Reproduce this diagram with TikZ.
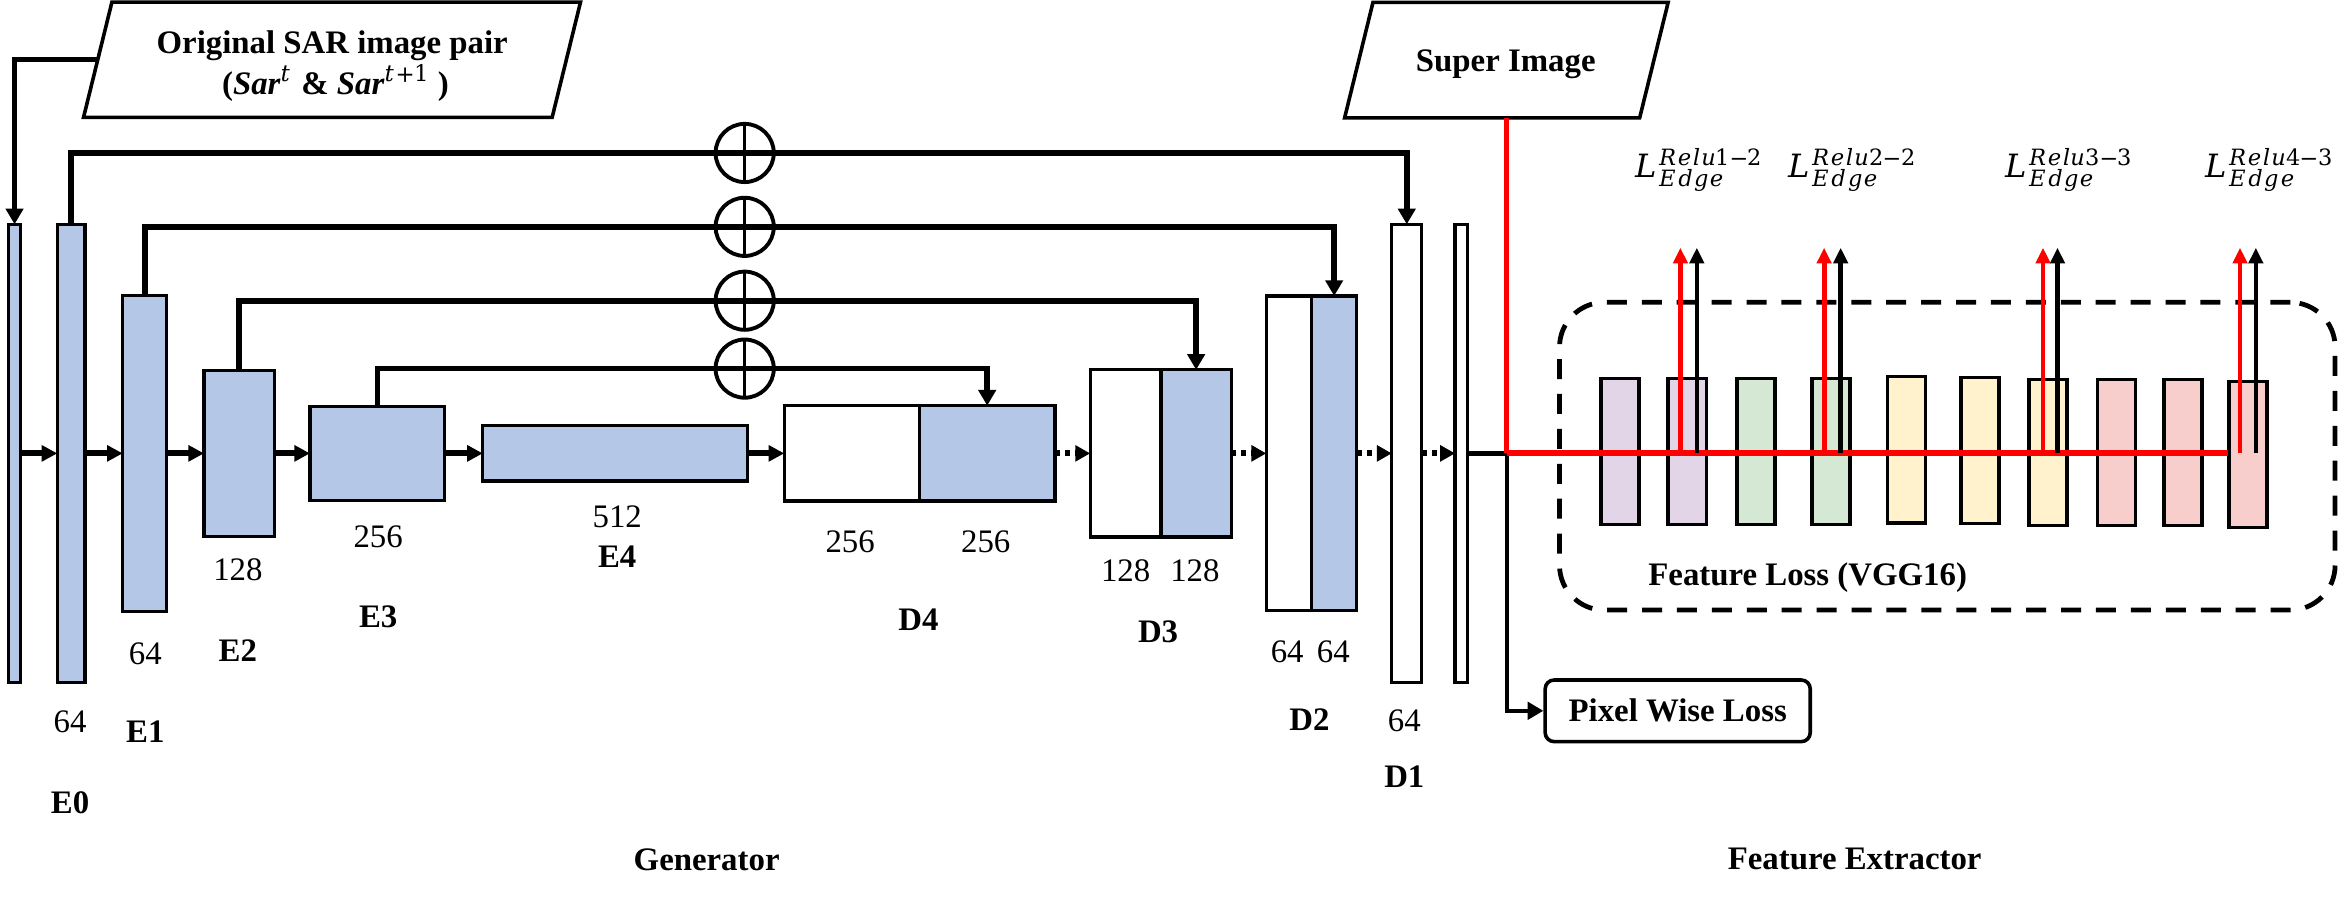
\documentclass[tikz,border=0pt]{standalone}
\usepackage{fontspec}
\usepackage{unicode-math}
\setmainfont{Liberation Serif}
\setmathfont{DejaVu Math TeX Gyre}
\usetikzlibrary{arrows.meta}
\definecolor{blueF}{HTML}{B4C7E7}
\definecolor{purpF}{HTML}{E1D5E7}
\definecolor{greenF}{HTML}{D5E8D4}
\definecolor{yelF}{HTML}{FFF2CC}
\definecolor{pinkF}{HTML}{F8CECC}
\definecolor{redL}{HTML}{FF0000}
\begin{document}
\begin{tikzpicture}[x=1pt,y=-1pt,
 fs/.style={font=\fontsize{22}{26}\selectfont, inner sep=0pt},
 bfs/.style={font=\fontsize{22}{26}\selectfont\bfseries, inner sep=0pt},
 blk/.style={draw, line width=2.2pt, inner sep=0pt, outer sep=0pt},
 bblk/.style={blk, fill=blueF},
 wblk/.style={blk, fill=white},
 vgg/.style={draw, line width=2.2pt, inner sep=0pt, outer sep=0pt, minimum width=25.5pt, minimum height=98pt},
 encarr/.style={line width=4pt, -{Triangle[length=10.5pt,width=10.5pt]}},
 decarr/.style={line width=4pt, dash pattern=on 3.5pt off 3.2pt, -{Triangle[length=10pt,width=10.5pt]}},
 skiparr/.style={line width=3.8pt, -{Triangle[length=10.5pt,width=11.5pt]}},
 opl/.style={circle, draw, line width=2.6pt, minimum size=39pt, inner sep=0pt, outer sep=0pt},
 upr/.style={redL, line width=3.2pt, -{Triangle[length=10.5pt,width=9.5pt]}},
 upb/.style={black, line width=3pt, -{Triangle[length=10.5pt,width=9.5pt]}},
 lossl/.style={font=\fontsize{21.5}{26}\selectfont, inner sep=0pt, anchor=base west},
 para/.style={line width=2.4pt, line join=miter},
]
\useasboundingbox (0,0) rectangle (1568,602.4);

% ---------- input parallelogram ----------
\draw[para] (75,1.4) -- (389,1.4) -- (370,78.6) -- (56,78.6) -- cycle;
\node[bfs, anchor=base] (sarT1) at (222.6,35.7) {Original SAR image pair};
\node[bfs, anchor=base] (sarT2) at (224.8,63) {(\textit{Sar}$^{t}$ \& \textit{Sar}$^{t+1}$ )};
\coordinate (sarL) at (65.4,40);

% ---------- super image parallelogram ----------
\draw[para] (920,1.6) -- (1117.8,1.6) -- (1098.7,79) -- (901,79) -- cycle;
\node[bfs, anchor=base] (siT) at (1009,48) {Super Image};
\coordinate (siB) at (1009.6,79);

% ---------- generator blocks ----------
\node[bblk, minimum width=8.3pt,  minimum height=307pt]  (in) at (9.75,303.8) {};
\node[bblk, minimum width=18.6pt, minimum height=307pt]  (E0) at (47.7,303.8) {};
\node[bblk, minimum width=29.5pt, minimum height=211.5pt] (E1) at (96.95,303.8) {};
\node[bblk, minimum width=47.2pt, minimum height=111.2pt] (E2) at (160.3,303.8) {};
\node[bblk, minimum width=90.3pt, minimum height=63pt]   (E3) at (252.85,303.8) {};
\node[bblk, minimum width=177.3pt, minimum height=37pt]  (E4) at (412.15,303.8) {};
\node[wblk, minimum width=90.5pt, minimum height=64pt]   (D4a) at (570.75,303.8) {};
\node[bblk, minimum width=91pt,   minimum height=64pt]   (D4b) at (661.5,303.8) {};
\node[wblk, minimum width=47.5pt, minimum height=112pt]  (D3a) at (754.25,303.8) {};
\node[bblk, minimum width=47pt,   minimum height=112pt]  (D3b) at (801.5,303.8) {};
\node[wblk, minimum width=30.5pt, minimum height=211pt]  (D2a) at (863.75,303.8) {};
\node[bblk, minimum width=30pt,   minimum height=211pt]  (D2b) at (894,303.8) {};
\node[wblk, minimum width=20.1pt, minimum height=307pt]  (D1) at (942.65,303.8) {};
\node[wblk, minimum width=8.5pt,  minimum height=307pt]  (Dout) at (979.25,303.8) {};

% ---------- forward arrows ----------
\draw[encarr] (in.east) -- (E0.west);
\draw[encarr] (E0.east) -- (E1.west);
\draw[encarr] (E1.east) -- (E2.west);
\draw[encarr] (E2.east) -- (E3.west);
\draw[encarr] (E3.east) -- (E4.west);
\draw[encarr] (E4.east) -- (D4a.west);
\draw[decarr] (D4b.east) -- (D3a.west);
\draw[decarr] (D3b.east) -- (D2a.west);
\draw[decarr] (D2b.east) -- (D1.west);
\draw[decarr] (D1.east) -- (Dout.west);

% ---------- input connector ----------
\draw[skiparr, line width=3.4pt] (sarL) -| (in.north);

% ---------- skip connections ----------
\node[opl] (op1) at (499,102.5) {};
\node[opl] (op2) at (499,152) {};
\node[opl] (op3) at (499,201.5) {};
\node[opl] (op4) at (499,247) {};
\draw[skiparr] (E0.north) |- (op1.center) -| (D1.north);
\draw[skiparr] (E1.north) |- (op2.center) -| (D2b.north);
\draw[skiparr] (E2.north) |- (op3.center) -| (D3b.north);
\draw[skiparr] (E3.north) |- (op4.center) -| (D4b.north);
\foreach \o in {op1,op2,op3,op4}{
  \draw[line width=1.8pt] (\o.north) -- (\o.south);
}

% ---------- generator labels ----------
\node[fs]  (n0)  at (47,483.6) {64};
\node[bfs] (l0)  at (47,537.9) {E0};
\node[fs]  (n1)  at (97.4,437.8) {64};
\node[bfs] (l1)  at (97.4,490) {E1};
\node[fs]  (n2)  at (159.4,382) {128};
\node[bfs] (l2)  at (159.4,436) {E2};
\node[fs]  (n3)  at (253.4,359.6) {256};
\node[bfs] (l3)  at (253.4,413.2) {E3};
\node[fs]  (n4)  at (413.6,346) {512};
\node[bfs] (l4)  at (413.6,373) {E4};
\node[fs]  (n5a) at (569.7,363) {256};
\node[fs]  (n5b) at (660.5,363) {256};
\node[bfs] (l5)  at (615.4,415.5) {D4};
\node[fs]  (n6a) at (754.3,382.4) {128};
\node[fs]  (n6b) at (800.7,382.4) {128};
\node[bfs] (l6)  at (776,423.3) {D3};
\node[fs]  (n7a) at (862.5,436.7) {64};
\node[fs]  (n7b) at (893.4,436.7) {64};
\node[bfs] (l7)  at (877.5,482.5) {D2};
\node[fs]  (n8)  at (941,483) {64};
\node[bfs] (l8)  at (941,520.5) {D1};
\node[bfs] (gen) at (473.5,576.3) {Generator};
\node[bfs] (fex) at (1242.8,575.8) {Feature Extractor};

% ---------- feature extractor ----------
\node[draw, line width=3.2pt, dash pattern=on 13.4pt off 10pt, rounded corners=30pt,
      minimum width=519.7pt, minimum height=206.2pt, inner sep=0pt] (vggbox) at (1304.85,305.7) {};
\node[bfs, anchor=base] (vggT) at (1211.3,392) {Feature Loss (VGG16)};

\node[vgg, fill=purpF]  (v1)  at (1085.5,302.5) {};
\node[vgg, fill=purpF]  (v2)  at (1130.5,302.5) {};
\node[vgg, fill=greenF] (v3)  at (1176.6,302.5) {};
\node[vgg, fill=greenF] (v4)  at (1226.9,302.5) {};
\node[vgg, fill=yelF]   (v5)  at (1277.7,301.5) {};
\node[vgg, fill=yelF]   (v6)  at (1326.8,301.8) {};
\node[vgg, fill=yelF]   (v7)  at (1372.3,303.3) {};
\node[vgg, fill=pinkF]  (v8)  at (1418.2,303.3) {};
\node[vgg, fill=pinkF]  (v9)  at (1462.8,303.3) {};
\node[vgg, fill=pinkF]  (v10) at (1506.4,304.5) {};

\coordinate (J) at (1009.6,303.8);
\coordinate (rEnd) at (1493.2,303.8);
\node[draw, line width=2.4pt, rounded corners=6pt, minimum width=177.6pt, minimum height=41.3pt,
      bfs] (pwl) at (1124.2,476.3) {Pixel Wise Loss};

\draw[line width=3.6pt] (Dout.east) -- (J);
\draw[line width=2.8pt, -{Triangle[length=10.5pt,width=11.5pt]}] (J) |- (pwl.west);
\draw[redL, line width=3pt] (siB) -- (J);
\draw[redL, line width=4pt] (J) -- (rEnd);

\foreach \r/\b/\i in {1126/1137/1, 1222.3/1233.4/2, 1369/1378.7/3, 1501/1511.6/4}{
  \coordinate (rs\i) at (\r,303.8);
  \coordinate (rt\i) at (\r,166);
  \coordinate (bs\i) at (\b,303.8);
  \coordinate (bt\i) at (\b,166);
  \draw[upr] (rs\i) -- (rt\i);
  \draw[upb] (bs\i) -- (bt\i);
}

\node[lossl] (L1) at (1093.4,118.8) {$L_{Edge}^{Relu1-2}$};
\node[lossl] (L2) at (1196.2,118.8) {$L_{Edge}^{Relu2-2}$};
\node[lossl] (L3) at (1341.3,118.8) {$L_{Edge}^{Relu3-3}$};
\node[lossl] (L4) at (1475.4,118.8) {$L_{Edge}^{Relu4-3}$};
\end{tikzpicture}
\end{document}
